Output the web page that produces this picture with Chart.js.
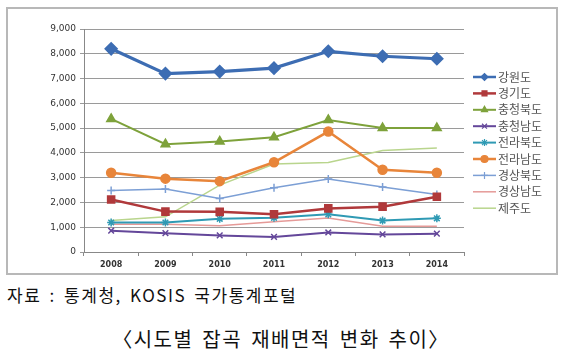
<!DOCTYPE html>
<html>
<head>
<meta charset="utf-8">
<script src="https://cdn.jsdelivr.net/npm/chart.js@4/dist/chart.umd.min.js"></script>
<style>
  body { margin: 0; background: #fff; width: 562px; height: 358px; position: relative; font-family: "Noto Sans CJK KR", "Noto Sans", sans-serif; }
  #box { position: absolute; left: 6px; top: 7px; width: 548px; height: 264px; border: 2px solid #b8b8b8; background: #fff; }
  #src { position: absolute; left: 7px; top: 282px; font-size: 17px; line-height: 25px; color: #111; letter-spacing: 1.5px; word-spacing: 3px; }
  #title { position: absolute; left: 0; width: 562px; top: 324px; text-align: center; font-size: 20px; line-height: 29px; color: #111; letter-spacing: 1.5px; word-spacing: 3px; }
</style>
</head>
<body>
<div id="box"><canvas id="c" width="548" height="264"></canvas></div>
<div id="src">자료 : 통계청, KOSIS 국가통계포털</div>
<div id="title">〈시도별 잡곡 재배면적 변화 추이〉</div>
<script>
// 연도 (x축)
const years = ['2008', '2009', '2010', '2011', '2012', '2013', '2014'];
const regionNames = ['강원도', '경기도', '충청북도', '충청남도', '전라북도', '전라남도', '경상북도', '경상남도', '제주도'];

// 시도별 재배면적
const gangwon   = [8200, 7200, 7280, 7420, 8100, 7900, 7800];
const gyeonggi  = [2120, 1630, 1620, 1520, 1760, 1830, 2230];
const chungbuk  = [5370, 4350, 4460, 4630, 5330, 5000, 5000];
const chungnam  = [860, 760, 670, 610, 790, 710, 740];
const jeonbuk   = [1190, 1190, 1340, 1380, 1520, 1270, 1360];
const jeonnam   = [3200, 2960, 2860, 3620, 4860, 3320, 3200];
const gyeongbuk = [2480, 2540, 2160, 2590, 2950, 2620, 2320];
const gyeongnam = [1120, 1120, 1060, 1220, 1370, 1040, 1040];
const jeju      = [1270, 1420, 2700, 3550, 3610, 4100, 4200];

const yTicks = [0, 1000, 2000, 3000, 4000, 5000, 6000, 7000, 8000, 9000];

function ds(label, data, color, style, radius, width) {
    return {
        label: label, data: data,
        borderColor: color, backgroundColor: color,
        pointStyle: style, pointRadius: radius, pointHoverRadius: radius,
        pointBorderColor: color, pointBackgroundColor: color,
        borderWidth: width, pointBorderWidth: 1.5,
        tension: 0
    };
}

const datasets = [
    ds(regionNames[0], gangwon, '#3d6db3', 'rectRot', 6, 3.2),
    ds(regionNames[1], gyeonggi, '#b0393b', 'rect', 5, 2.5),
    ds(regionNames[2], chungbuk, '#7ea23b', 'triangle', 5, 2),
    ds(regionNames[3], chungnam, '#64479a', 'crossRot', 4, 2),
    ds(regionNames[4], jeonbuk, '#2f9ab4', 'star', 4, 2),
    ds(regionNames[5], jeonnam, '#e8853a', 'circle', 4.5, 2.5),
    ds(regionNames[6], gyeongbuk, '#7c9fd5', 'cross', 4, 1.5),
    ds(regionNames[7], gyeongnam, '#e59a98', 'circle', 0, 1.5),
    ds(regionNames[8], jeju, '#b9d58d', 'circle', 0, 1.5)
];

// 오른쪽 범례 직접 그리기
const sideLegend = {
    id: 'sideLegend',
    afterDraw(chart) {
        const ctx = chart.ctx;
        ctx.save();
        chart.data.datasets.forEach((d, i) => {
            const y = 68 + i * 16.4;
            const x0 = 465, x1 = 488;
            ctx.strokeStyle = d.borderColor;
            ctx.lineWidth = Math.min(d.borderWidth, 2.5);
            ctx.beginPath();
            ctx.moveTo(x0, y);
            ctx.lineTo(x1, y);
            ctx.stroke();
            if (d.pointRadius > 0) {
                ctx.fillStyle = d.pointBackgroundColor;
                ctx.lineWidth = 1.2;
                Chart.helpers.drawPoint(ctx, { pointStyle: d.pointStyle, radius: Math.min(d.pointRadius, 3.5), borderWidth: 1.2, rotation: 0 }, (x0 + x1) / 2, y);
            }
            ctx.fillStyle = '#555';
            ctx.font = '12px "Noto Sans CJK KR"';
            ctx.textBaseline = 'middle';
            ctx.fillText(d.label, x1 + 2, y);
        });
        ctx.restore();
    }
};

new Chart(document.getElementById('c'), {
    type: 'line',
    data: { labels: years, datasets: datasets },
    options: {
        responsive: false,
        animation: false,
        layout: { padding: { left: 4, right: 92, top: 20, bottom: 0 } },
        plugins: { legend: { display: false }, tooltip: { enabled: false } },
        scales: {
            x: {
                offset: true,
                grid: { display: true, drawOnChartArea: false, offset: true, color: '#888', tickLength: 4 },
                border: { color: '#888' },
                ticks: { color: '#333', font: { size: 8, weight: 'bold', family: 'DejaVu Sans' }, padding: 4 },
                afterFit(s) { s.height = 21; }
            },
            y: {
                min: 0, max: 9000,
                afterBuildTicks(s) { s.ticks = yTicks.map(v => ({ value: v })); },
                grid: { color: '#9a9a9a', tickLength: 4 },
                border: { color: '#888' },
                ticks: {
                    color: '#333', font: { size: 9, family: 'DejaVu Sans' }, padding: 4,
                    callback: v => v.toLocaleString('en-US')
                },
                afterFit(s) { s.width = 72; }
            }
        }
    },
    plugins: [sideLegend]
});
</script>
</body>
</html>
